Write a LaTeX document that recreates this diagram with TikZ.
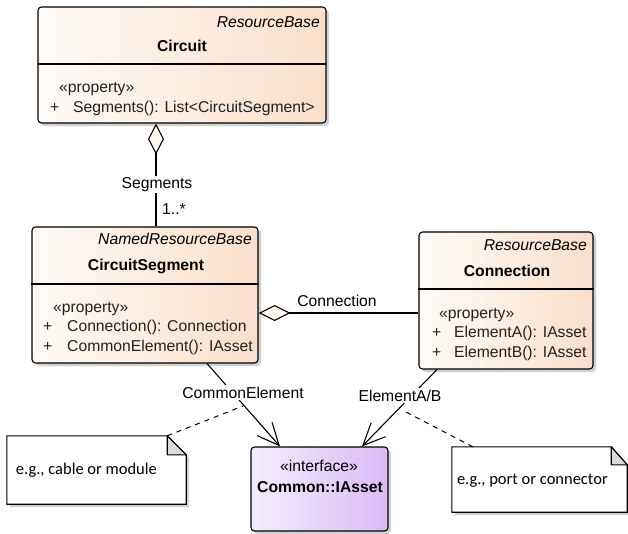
\documentclass[tikz,border=0pt]{standalone}
\usepackage{fontspec}
\setmainfont{Liberation Sans}
\newfontfamily\notefont{Carlito}
\usetikzlibrary{arrows.meta,shadows,calc}

\definecolor{classL}{HTML}{FFFBF7}
\definecolor{classR}{HTML}{F8DFCB}
\definecolor{ifaceL}{HTML}{F4ECFC}
\definecolor{ifaceR}{HTML}{DABCF5}
\definecolor{diam}{HTML}{FFFAF0}
\definecolor{fold}{HTML}{DADADA}
\definecolor{attr}{HTML}{222222}

\begin{document}
\begin{tikzpicture}[x=1pt,y=-1pt,
  every node/.style={inner sep=0pt},
  txt/.style={font=\fontsize{15.7}{19}\selectfont},
  boxshadow/.style={drop shadow={shadow xshift=3pt,shadow yshift=-3pt,fill=black!40,opacity=0.45}},
  umlclass/.style={draw,line width=1.1pt,rounded corners=3.5pt,left color=classL,right color=classR,boxshadow},
  umliface/.style={draw,line width=1.1pt,rounded corners=3.5pt,left color=ifaceL,right color=ifaceR,boxshadow},
  divider/.style={line width=1.1pt},
  stereo/.style={txt,font=\fontsize{15.7}{19}\selectfont\itshape,anchor=base east},
  cname/.style={txt,font=\fontsize{15.7}{19}\selectfont\bfseries,anchor=base},
  member/.style={txt,text=attr,anchor=base west},
  conn/.style={line width=1.1pt},
  lbl/.style={txt,fill=white,inner sep=1.5pt,anchor=base},
  notebody/.style={draw,line width=1.1pt,fill=white,boxshadow},
  notefold/.style={draw,line width=1.1pt,fill=fold,line join=round},
  notetext/.style={font=\notefont\fontsize{16.5}{20}\selectfont,anchor=west},
  notelink/.style={line width=1pt,dash pattern=on 5pt off 5pt}
]
\useasboundingbox (0,0) rectangle (628,533);

% ---- class Circuit ----
\node[umlclass,minimum width=288pt,minimum height=116pt] (circuit) at (182,65) {};
\draw[divider] (circuit.west |- 0,64) -- (circuit.east |- 0,64);
\node[stereo] at (320,27) {ResourceBase};
\node[cname] at (182,51) {Circuit};
\node[member] at (59,92) {«property»};
\node[member] at (50,112) {+};
\node[member] at (73,112) {Segments(): List<CircuitSegment>};

% ---- class CircuitSegment ----
\node[umlclass,minimum width=226pt,minimum height=136pt] (seg) at (145,295) {};
\draw[divider] (seg.west |- 0,284) -- (seg.east |- 0,284);
\node[stereo] at (252,244) {NamedResourceBase};
\node[cname] at (146,270) {CircuitSegment};
\node[member] at (53,312) {«property»};
\node[member] at (43,331) {+};
\node[member] at (67,331) {Connection(): Connection};
\node[member] at (43,351) {+};
\node[member] at (67,351) {CommonElement(): IAsset};

% ---- class Connection ----
\node[umlclass,minimum width=174pt,minimum height=137pt] (conn) at (506,300.5) {};
\draw[divider] (conn.west |- 0,289) -- (conn.east |- 0,289);
\node[stereo] at (587,250) {ResourceBase};
\node[cname] at (507,276) {Connection};
\node[member] at (439,318) {«property»};
\node[member] at (432,337) {+};
\node[member] at (454,337) {ElementA(): IAsset};
\node[member] at (432,357) {+};
\node[member] at (454,357) {ElementB(): IAsset};

% ---- interface IAsset ----
\node[umliface,minimum width=137pt,minimum height=84pt] (iasset) at (319.5,489) {};
\node[txt,anchor=base] at (319,471) {«interface»};
\node[cname] at (320,492) {Common::IAsset};

% ---- notes ----
\node[minimum width=179pt,minimum height=68pt] (notel) at (96.5,470) {};
\path[notebody] (notel.north west) -- ([xshift=-19pt]notel.north east)
  -- ([yshift=-19pt]notel.north east) -- (notel.south east) -- (notel.south west) -- cycle;
\path[notefold] ([xshift=-19pt]notel.north east) -- ([xshift=-19pt,yshift=-19pt]notel.north east)
  -- ([yshift=-19pt]notel.north east) -- cycle;
\node[notetext] at ([xshift=9pt]notel.west) {e.g., cable or module};

\node[minimum width=175pt,minimum height=65pt] (noter) at (539.5,479.5) {};
\path[notebody] (noter.north west) -- ([xshift=-16pt]noter.north east)
  -- ([yshift=-18pt]noter.north east) -- (noter.south east) -- (noter.south west) -- cycle;
\path[notefold] ([xshift=-16pt]noter.north east) -- ([xshift=-16pt,yshift=-18pt]noter.north east)
  -- ([yshift=-18pt]noter.north east) -- cycle;
\node[notetext] at ([xshift=5pt,yshift=-1.5pt]noter.west) {e.g., port or connector};

% ---- connectors ----
\draw[conn,{Diamond[length=31pt,width=16pt,fill=diam]}-]
  ([xshift=-26pt]circuit.south) -- ([xshift=11pt]seg.north);
\draw[conn,{Diamond[length=32pt,width=16pt,fill=diam]}-]
  ([yshift=-18pt]seg.east) -- ([yshift=-12.5pt]conn.west);
\draw[conn,-{Straight Barb[length=22pt,width=20pt]}]
  ([xshift=62pt]seg.south) -- ([xshift=-39.5pt]iasset.north);
\draw[conn,-{Straight Barb[length=22pt,width=20pt]}]
  ([xshift=-69pt]conn.south) -- ([xshift=42.5pt]iasset.north);

% ---- connector labels ----
\node[lbl] (lsegs) at (157,188) {Segments};
\node[txt,anchor=base west] (lmult) at (162,214) {1..*};
\node[txt,anchor=base] (lconn) at (337,306) {Connection};
\node[lbl] (lcommon) at (243,398) {CommonElement};
\node[lbl] (lelem) at (400,401) {ElementA/B};

% ---- note links ----
\draw[notelink] ([xshift=-19pt]notel.north east) -- ([yshift=-8pt]lcommon.base);
\draw[notelink] ([xshift=21pt]noter.north west) -- ([xshift=6pt,yshift=-11pt]lelem.base);
\end{tikzpicture}
\end{document}
